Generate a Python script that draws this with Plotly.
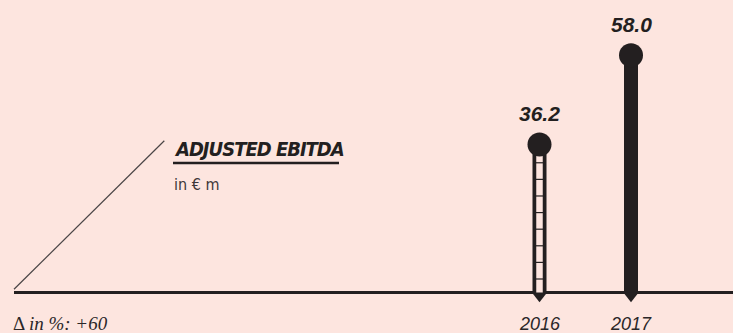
import numpy as np
import plotly.graph_objects as go

# ---- data ----
years = [2016, 2017]
values = [36.2, 58.0]
value_labels = ["36.2", "58.0"]
year_labels = ["2016", "2017"]
title_text = "ADJUSTED EBITDA"
unit_text = "in € m"
delta_text = "Δ <i>in %: +60</i>"

# ---- style ----
BG = "#FDE5DF"
DARK = "#231F20"
W, H = 733, 333
PX_PER_UNIT = 4.09
BASE_PX = 292.5
X0_PX, PX_PER_YEAR = 539.5, 91.5
COND = "DejaVu Sans Condensed, DejaVu Sans, sans-serif"

x_range = [years[0] - X0_PX / PX_PER_YEAR, years[0] + (W - X0_PX) / PX_PER_YEAR]
y_range = [-(H - BASE_PX) / PX_PER_UNIT, BASE_PX / PX_PER_UNIT]
pointer_y = -3.6 / PX_PER_UNIT

fig = go.Figure()

# baseline
fig.add_shape(type="line", xref="paper", yref="y", x0=14 / W, x1=1, y0=0, y1=0,
              line=dict(color=DARK, width=3), layer="below")
# diagonal decoration
fig.add_shape(type="line", xref="paper", yref="paper",
              x0=14 / W, y0=1 - 289.3 / H, x1=164.3 / W, y1=1 - 140.7 / H,
              line=dict(color="#4a4546", width=1.2))
# title underline
fig.add_shape(type="line", xref="paper", yref="paper",
              x0=173 / W, x1=339 / W, y0=1 - 163 / H, y1=1 - 163 / H,
              line=dict(color=DARK, width=2.5))

for i, (yr, v) in enumerate(zip(years, values)):
    # pointer below bar
    fig.add_trace(go.Scatter(x=[yr], y=[pointer_y], mode="markers",
                             marker=dict(symbol="triangle-down", size=12.5, color=DARK),
                             hoverinfo="skip", showlegend=False))
    # stem
    fig.add_trace(go.Scatter(x=[yr, yr], y=[0, v], mode="lines",
                             line=dict(color=DARK, width=14),
                             hoverinfo="skip", showlegend=False))
    if i == 0:
        # hollow interior with ladder rungs (previous year)
        fig.add_trace(go.Scatter(x=[yr, yr], y=[0, v], mode="lines",
                                 line=dict(color=BG, width=6.5),
                                 hoverinfo="skip", showlegend=False))
        rungs = np.arange(3.3, v - 3.5, 4.06)
        fig.add_trace(go.Scatter(x=[yr] * len(rungs), y=rungs, mode="markers",
                                 marker=dict(symbol="line-ew", size=7,
                                             line=dict(color=DARK, width=1.2)),
                                 hoverinfo="skip", showlegend=False))
    # top ball
    fig.add_trace(go.Scatter(x=[yr], y=[v], mode="markers",
                             marker=dict(symbol="circle", size=24, color=DARK),
                             hoverinfo="skip", showlegend=False))
    # value label
    fig.add_annotation(x=yr, y=v, text="<b><i>%s</i></b>" % value_labels[i],
                       showarrow=False, yanchor="middle", yshift=31,
                       font=dict(family="Liberation Sans, Arial, sans-serif", size=21, color=DARK))
    # year label
    fig.add_annotation(x=yr, xref="x", yref="paper", y=1 - 324 / H,
                       text="<i>%s</i>" % year_labels[i], showarrow=False,
                       yanchor="middle",
                       font=dict(family="Liberation Sans, Arial, sans-serif", size=18, color="#2b2728"))

# title / unit / delta text
fig.add_annotation(xref="paper", yref="paper", x=172 / W, y=1 - 149.5 / H,
                   xanchor="left", yanchor="middle", showarrow=False,
                   text='<span style="letter-spacing:-1px"><b><i>%s</i></b></span>' % title_text,
                   font=dict(family=COND, size=20, color=DARK))
fig.add_annotation(xref="paper", yref="paper", x=172 / W, y=1 - 184 / H,
                   xanchor="left", yanchor="middle", showarrow=False,
                   text=unit_text,
                   font=dict(family=COND, size=16, color="#3d3839"))
fig.add_annotation(xref="paper", yref="paper", x=11 / W, y=1 - 323 / H,
                   xanchor="left", yanchor="middle", showarrow=False,
                   text=delta_text,
                   font=dict(family="Liberation Serif, DejaVu Serif, serif", size=19, color="#2b2728"))

fig.update_layout(
    width=W, height=H,
    margin=dict(l=0, r=0, t=0, b=0),
    paper_bgcolor=BG, plot_bgcolor=BG,
    xaxis=dict(range=x_range, visible=False, fixedrange=True),
    yaxis=dict(range=y_range, visible=False, fixedrange=True),
    showlegend=False,
)

fig.write_html("out.html", config={"displayModeBar": False},
               post_script="document.body.style.margin='0';document.body.style.overflow='hidden';")
